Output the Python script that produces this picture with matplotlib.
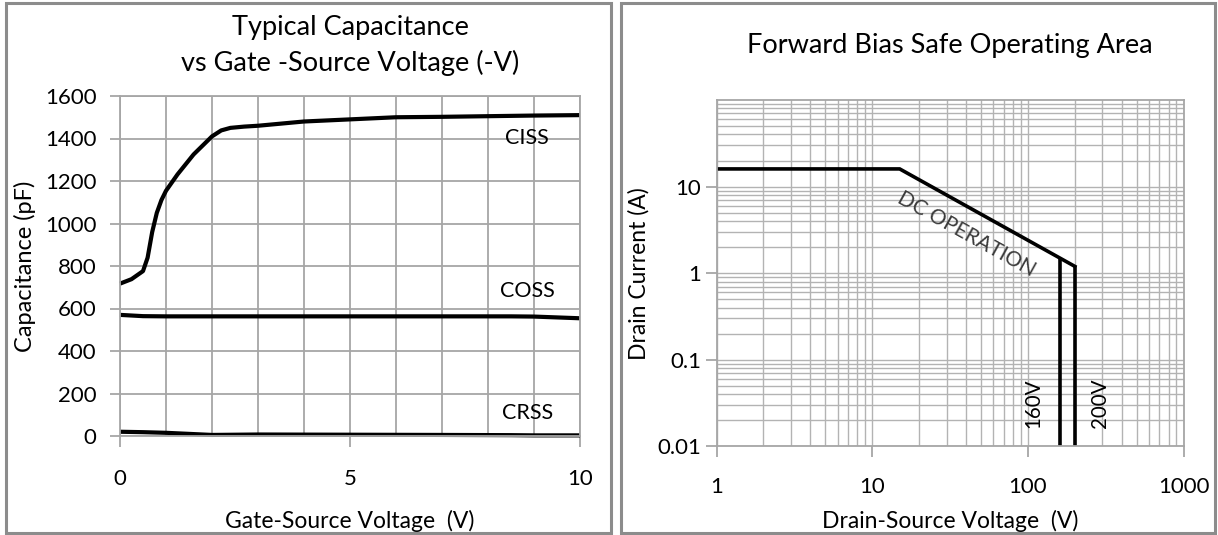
import matplotlib
matplotlib.use("Agg")
import matplotlib.pyplot as plt
from matplotlib.patches import Rectangle
from matplotlib.ticker import LogLocator, FixedLocator, NullFormatter

plt.rcParams['font.family'] = ['Lato', 'DejaVu Sans']

# ---- Left chart data: capacitance vs gate-source voltage ----
vgs = [0, 0.25, 0.5, 0.6, 0.7, 0.8, 0.9, 1.0, 1.25, 1.6, 2.0, 2.2, 2.4, 2.7, 3.0, 3.5, 4.0, 5.0, 6.0, 7.0, 8.0, 9.0, 10.0]
ciss = [717, 738, 776, 839, 960, 1050, 1110, 1154, 1231, 1325, 1410, 1438, 1450, 1456, 1460, 1470, 1480, 1490, 1500, 1502, 1505, 1508, 1510]
vgs_c = [0, 0.5, 1.0, 2.0, 3.0, 5.0, 7.0, 8.5, 9.0, 10.0]
coss = [570, 564, 563, 563, 563, 563, 563, 563, 562, 554]
crss = [20, 18, 15, 5, 7, 6, 5, 4, 3, 3]
cap_labels = ["CISS", "COSS", "CRSS"]
cap_label_pos = [(8.85, 1400), (8.85, 682), (8.85, 108)]

# ---- Right chart data: forward bias SOA ----
soa_v = [1, 15, 160, 200]
soa_i = [16, 16, 1.5, 1.2]
lim_v = [160, 200]
lim_i_top = [1.5, 1.2]
lim_labels = ["160V", "200V"]

W, H = 1218, 535
fig = plt.figure(figsize=(W / 100, H / 100), dpi=100)

grid_c = '#a6a6a6'
tick_fs = 16
label_fs = 16.5
title_fs = 19.5

# Panel borders
for (x0, x1) in [(6, 611), (621, 1215)]:
    fig.patches.append(Rectangle((x0 / W, 2 / H), (x1 - x0) / W, (532 - 2) / H,
                                 transform=fig.transFigure, fill=False,
                                 edgecolor='#8c8c8c', lw=2.2, zorder=0))

# ---------- Left axes ----------
ax1 = fig.add_axes([120 / W, 1 - 436 / H, (580 - 120) / W, (436 - 96) / H])
ax1.set_xlim(0, 10)
ax1.set_ylim(0, 1600)
ax1.plot(vgs, ciss, color='black', lw=3, solid_capstyle='butt', clip_on=False)
ax1.plot(vgs_c, coss, color='black', lw=3, solid_capstyle='butt', clip_on=False)
ax1.plot(vgs_c, crss, color='black', lw=3, solid_capstyle='butt', clip_on=False)
for lab, (x, y) in zip(cap_labels, cap_label_pos):
    ax1.text(x, y, lab, ha='center', va='center', fontsize=15.5)
ax1.set_xticks([0, 5, 10])
ax1.xaxis.set_minor_locator(FixedLocator(list(range(0, 11))))
ax1.set_yticks(range(0, 1601, 200))
ax1.grid(True, which='both', axis='x', color=grid_c, lw=1.3)
ax1.grid(True, which='major', axis='y', color=grid_c, lw=1.3)
ax1.tick_params(axis='x', which='major', direction='out', length=8, width=1.3,
                color=grid_c, pad=16, labelsize=tick_fs)
ax1.tick_params(axis='x', which='minor', length=0)
ax1.tick_params(axis='y', direction='out', length=7, width=1.3, color=grid_c,
                pad=10, labelsize=tick_fs)
for s in ax1.spines.values():
    s.set_color(grid_c)
    s.set_linewidth(1.3)
ax1.set_axisbelow(True)
ax1.set_xlabel("Gate-Source Voltage  (V)", fontsize=label_fs, labelpad=15)
ax1.set_ylabel("Capacitance (pF)", fontsize=17, labelpad=6)
fig.text(350 / W, 1 - 27 / H, "Typical Capacitance", ha='center', va='center', fontsize=title_fs)
fig.text(350 / W, 1 - 63 / H, "vs Gate -Source Voltage (-V)", ha='center', va='center', fontsize=title_fs)

# ---------- Right axes ----------
ax2 = fig.add_axes([716.6 / W, 1 - 446.4 / H, (1183.6 - 716.6) / W, (446.4 - 100) / H])
ax2.set_xscale('log')
ax2.set_yscale('log')
ax2.set_xlim(1, 1000)
ax2.set_ylim(0.01, 100)
ax2.plot(soa_v, soa_i, color='black', lw=2.6, solid_joinstyle='miter')
for v, itop in zip(lim_v, lim_i_top):
    ax2.plot([v, v], [itop, 0.01], color='black', lw=2.6, solid_capstyle='butt')
ax2.text(40, 2.8, "DC OPERATION", rotation=-29, rotation_mode='anchor', ha='center',
         va='center', fontsize=15, color='#3a3a3a')
ax2.text(108, 0.0314, lim_labels[0], rotation=90, ha='center', va='center', fontsize=14.8)
ax2.text(290, 0.0314, lim_labels[1], rotation=90, ha='center', va='center', fontsize=14.8)
ax2.xaxis.set_major_locator(FixedLocator([1, 10, 100, 1000]))
ax2.yaxis.set_major_locator(FixedLocator([0.01, 0.1, 1, 10]))
ax2.xaxis.set_minor_locator(LogLocator(base=10, subs=range(2, 10)))
ax2.yaxis.set_minor_locator(LogLocator(base=10, subs=range(2, 10)))
ax2.xaxis.set_minor_formatter(NullFormatter())
ax2.yaxis.set_minor_formatter(NullFormatter())
ax2.set_xticklabels(["1", "10", "100", "1000"])
ax2.set_yticklabels(["0.01", "0.1", "1", "10"])
ax2.grid(True, which='both', color='#b3b3b3', lw=1.0)
ax2.tick_params(which='major', direction='out', length=8, width=1.3, color=grid_c,
                labelsize=tick_fs)
ax2.tick_params(axis='x', which='major', pad=14)
ax2.tick_params(axis='y', which='major', pad=3)
ax2.tick_params(which='minor', length=0)
for s in ax2.spines.values():
    s.set_color(grid_c)
    s.set_linewidth(1.3)
ax2.set_axisbelow(True)
ax2.set_xlabel("Drain-Source Voltage  (V)", fontsize=label_fs, labelpad=9)
ax2.set_ylabel("Drain Current (A)", fontsize=label_fs, labelpad=6)
fig.text(950 / W, 1 - 46 / H, "Forward Bias Safe Operating Area", ha='center', va='center', fontsize=title_fs)

fig.savefig("out.png", dpi=100)
